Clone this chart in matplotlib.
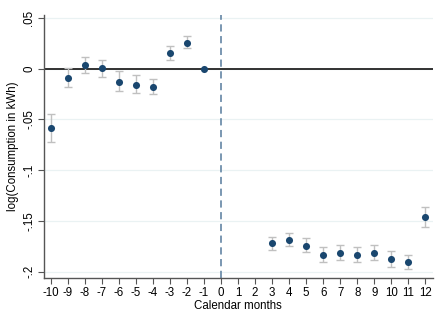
import matplotlib
matplotlib.use("Agg")
import matplotlib.pyplot as plt
import numpy as np

months = [-10, -9, -8, -7, -6, -5, -4, -3, -2, -1, 3, 4, 5, 6, 7, 8, 9, 10, 11, 12]
coef = [-0.0587, -0.0093, 0.0040, 0.0007, -0.0126, -0.0156, -0.0179, 0.0156, 0.0258, 0.0,
        -0.1717, -0.1690, -0.1743, -0.1839, -0.1816, -0.1832, -0.1816, -0.1879, -0.1905, -0.1461]
ci_low = [-0.0726, -0.0180, -0.0040, -0.0080, -0.0220, -0.0240, -0.0250, 0.0090, 0.0200, 0.0,
          -0.1786, -0.1750, -0.1810, -0.1910, -0.1890, -0.1905, -0.1890, -0.1950, -0.1978, -0.1560]
ci_high = [-0.0447, 0.0003, 0.0120, 0.0090, -0.0027, -0.0066, -0.0100, 0.0220, 0.0320, 0.0,
           -0.1654, -0.1620, -0.1670, -0.1760, -0.1740, -0.1756, -0.1740, -0.1800, -0.1836, -0.1365]
xticks = list(range(-10, 13))
yticks = [0.05, 0.0, -0.05, -0.10, -0.15, -0.20]
ytick_labels = [".05", "0", "-.05", "-.1", "-.15", "-.2"]

plt.rcParams['font.family'] = ['Liberation Sans', 'DejaVu Sans']

fig = plt.figure(figsize=(4.44, 3.23), dpi=100)
ax = fig.add_axes([0.0984, 0.1384, 0.8761, 0.8152])

ax.set_xlim(-10.41, 12.43)
ax.set_ylim(-0.2066, 0.053)

for y in yticks:
    ax.axhline(y, color="#eaf2f3", lw=0.9, zorder=0)

ax.axhline(0, color="#222222", lw=1.3, zorder=1)
ax.axvline(0, color="#6f8fab", lw=1.3, ls=(0, (4, 2.5)), zorder=1)

c = np.array(coef)
lo = np.array(ci_low)
hi = np.array(ci_high)
has_ci = hi > lo
ax.errorbar(np.array(months)[has_ci], c[has_ci],
            yerr=[c[has_ci] - lo[has_ci], hi[has_ci] - c[has_ci]],
            fmt="none", ecolor="#c0c0c0", elinewidth=1.0, capsize=3, capthick=1.0, zorder=2)
ax.scatter(months, coef, s=26, color="#1a476f", zorder=3, linewidths=0)

for s in ["top", "right"]:
    ax.spines[s].set_visible(False)
for s in ["left", "bottom"]:
    ax.spines[s].set_color("#555555")
    ax.spines[s].set_linewidth(1.0)

ax.set_xticks(xticks)
ax.set_xticklabels([str(v) for v in xticks])
ax.set_yticks(yticks)
ax.set_yticklabels(ytick_labels, rotation=90, va="center")
ax.tick_params(axis="both", labelsize=8.3, length=4, width=0.8, color="#555555", pad=2)

ax.set_xlabel("Calendar months", fontsize=8.3, labelpad=1)
ax.set_ylabel("log(Consumption in kWh)", fontsize=8.3, labelpad=3)

fig.savefig("out.png", dpi=100)
